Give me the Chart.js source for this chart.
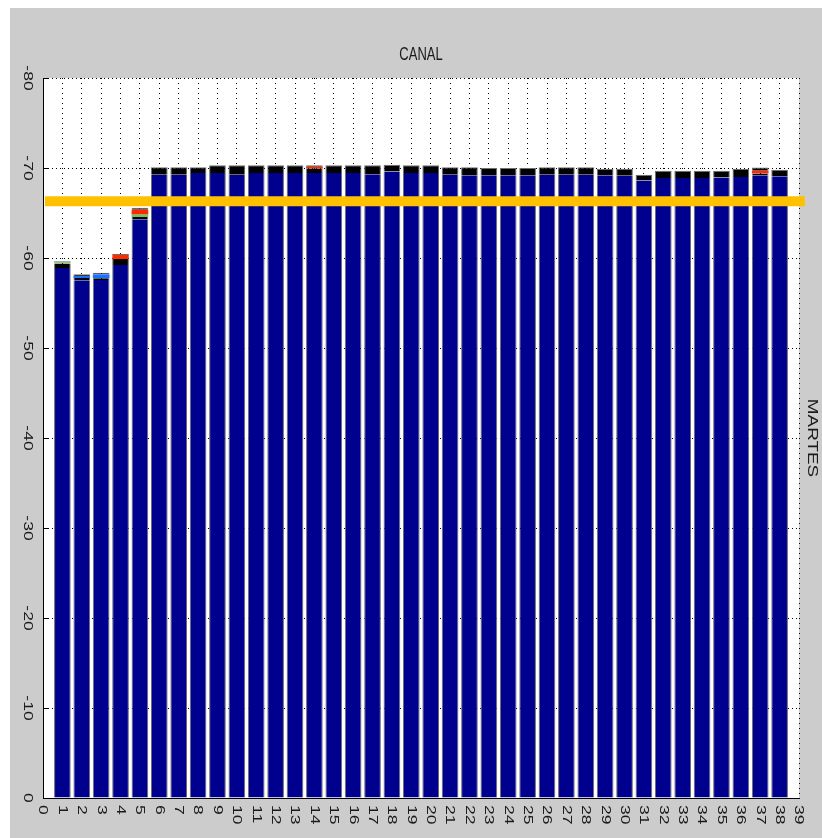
<!DOCTYPE html>
<html lang="es">
<head>
<meta charset="UTF-8">
<title>CANAL</title>
<script src="https://cdn.jsdelivr.net/npm/chart.js"></script>
<style>
  html, body { margin: 0; padding: 0; background: #fff; }
  canvas { display: block; }
</style>
</head>
<body>
<canvas id="chart" width="822" height="838"></canvas>
<script>
  // channels 1..38 (x axis runs 0..39)
  const channels = [1,2,3,4,5,6,7,8,9,10,11,12,13,14,15,16,17,18,19,20,
                    21,22,23,24,25,26,27,28,29,30,31,32,33,34,35,36,37,38];
  const xTickLabels = ['0','1','2','3','4','5','6','7','8','9','10','11','12','13','14','15','16','17','18','19',
                       '20','21','22','23','24','25','26','27','28','29','30','31','32','33','34','35','36','37','38','39'];
  const yTickValues = [0, -10, -20, -30, -40, -50, -60, -70, -80];

  // stacked segments (dBm), bottom to top
  const blueLevel = [-58.9, -57.52, -57.56, -59.22, -64.3, -69.26, -69.26, -69.44, -69.44, -69.26,
                     -69.44, -69.44, -69.44, -69.44, -69.44, -69.44, -69.3, -69.6, -69.44, -69.44,
                     -69.26, -69.2, -69.2, -69.2, -69.2, -69.26, -69.26, -69.26, -69.2, -69.15,
                     -68.6, -68.9, -68.9, -68.9, -68.95, -69.0, -69.2, -69.07];
  const blackLow  = [-0.5, -0.26, -0.19, -0.67, -0.25, -0.82, -0.82, -0.64, -0.86, -1.04,
                     -0.86, -0.86, -0.86, -0.5, -0.86, -0.86, -1.0, -0.77, -0.86, -0.86,
                     -0.82, -0.88, -0.8, -0.8, -0.8, -0.82, -0.82, -0.82, -0.7, -0.78,
                     -0.66, -0.8, -0.8, -0.8, -0.75, -0.9, -0.2, -0.73];
  const lightBlue = [0, -0.22, -0.44, 0, 0, 0, 0, 0, 0, 0, 0, 0, 0, 0, 0, 0, 0, 0, 0, 0,
                     0, 0, 0, 0, 0, 0, 0, 0, 0, 0, 0, 0, 0, 0, 0, 0, 0, 0];
  const green     = [-0.25, 0, 0, 0, -0.27, 0, 0, 0, 0, 0, 0, 0, 0, 0, 0, 0, 0, 0, 0, 0,
                     0, 0, 0, 0, 0, 0, 0, 0, 0, 0, 0, 0, 0, 0, 0, 0, 0, 0];
  const red       = [0, 0, 0, -0.55, -0.55, 0, 0, 0, 0, 0, 0, 0, 0, -0.2, 0, 0, 0, 0, 0, 0,
                     0, 0, 0, 0, 0, 0, 0, 0, 0, 0, 0, 0, 0, 0, 0, 0, -0.3, 0];
  const blackTop  = [0, -0.19, -0.18, 0, -0.2, 0, 0, 0, 0, 0, 0, 0, 0, -0.16, 0, 0, 0, 0, 0, 0,
                     0, 0, 0, 0, 0, 0, 0, 0, 0, 0, 0, 0, 0, 0, 0, 0, -0.35, 0];

  // threshold line
  const refLineX = [0.1, 39.3];
  const refLineY = -66.3;

  const segments = [
    { label: 'nivel', data: blueLevel, color: '#00008e' },
    { label: 'negro 1', data: blackLow, color: '#000000' },
    { label: 'celeste', data: lightBlue, color: '#1a70ff' },
    { label: 'verde', data: green, color: '#66c86a' },
    { label: 'rojo', data: red, color: '#ff2a00' },
    { label: 'negro 2', data: blackTop, color: '#000000' }
  ];

  // index of the topmost non-empty segment for each bar
  const topSeg = channels.map((c, i) => {
    let t = 0;
    segments.forEach((s, k) => { if (s.data[i] !== 0) t = k; });
    return t;
  });

  const FONT = '"Liberation Sans", Arial, sans-serif';
  const STRETCH = 1.35;

  function stretchedText(ctx, text, x, y, rotate, align) {
    ctx.save();
    ctx.translate(x, y);
    if (rotate) {
      ctx.rotate(Math.PI / 2);
      ctx.scale(STRETCH, 1);
    } else {
      ctx.scale(1, STRETCH);
    }
    ctx.textAlign = align;
    ctx.textBaseline = 'middle';
    ctx.fillText(text, 0, 0);
    ctx.restore();
  }

  const matlabLook = {
    id: 'matlabLook',
    beforeDraw(chart) {
      const { ctx, chartArea: a } = chart;
      ctx.save();
      ctx.fillStyle = '#ffffff';
      ctx.fillRect(0, 0, chart.width, chart.height);
      ctx.fillStyle = '#cccccc';
      ctx.fillRect(10, 8, chart.width - 10, chart.height - 8);
      ctx.fillStyle = '#ffffff';
      ctx.fillRect(a.left, a.top, a.right - a.left, a.bottom - a.top);
      ctx.restore();
    },
    afterDraw(chart) {
      const { ctx, chartArea: a, scales: { x, y } } = chart;
      ctx.save();
      ctx.fillStyle = '#1a1a1a';
      ctx.strokeStyle = '#000';
      ctx.lineWidth = 1;
      ctx.font = '13px ' + FONT;

      yTickValues.forEach(v => {
        const py = y.getPixelForValue(v);
        stretchedText(ctx, String(v), a.left - 15, py, true, 'center');
        ctx.beginPath();
        ctx.moveTo(a.left, Math.round(py) + 0.5);
        ctx.lineTo(a.left + 5, Math.round(py) + 0.5);
        ctx.stroke();
      });

      xTickLabels.forEach((lab, i) => {
        const px = x.getPixelForValue(i);
        stretchedText(ctx, lab, px, a.bottom + 7, true, 'left');
      });

      stretchedText(ctx, 'CANAL', (a.left + a.right) / 2, 55, false, 'center');
      ctx.font = '14px ' + FONT;
      stretchedText(ctx, 'MARTES', a.right + 13, (a.top + a.bottom) / 2, true, 'center');
      ctx.restore();
    }
  };

  const datasets = segments.map((s, k) => ({
    type: 'bar',
    label: s.label,
    data: channels.map((c, i) => ({ x: c, y: s.data[i] })),
    backgroundColor: s.color,
    borderColor: '#6e6e6e',
    borderWidth: ctx => {
      const i = ctx.dataIndex;
      const edge = (k === 0 || k === 1 || k === 5) ? 1 : 0;
      return { left: edge, right: edge, top: topSeg[i] === k ? 1 : 0, bottom: 0 };
    },
    borderSkipped: 'start',
    barPercentage: 0.86,
    categoryPercentage: 1,
    order: 1
  }));

  datasets.push({
    type: 'line',
    label: 'umbral',
    data: refLineX.map(v => ({ x: v, y: refLineY })),
    borderColor: '#ffc000',
    borderWidth: 10,
    pointRadius: 0,
    clip: false,
    order: 0
  });

  new Chart(document.getElementById('chart'), {
    data: { datasets },
    options: {
      responsive: false,
      animation: false,
      layout: { padding: { left: 43, right: 23, top: 78, bottom: 40 } },
      plugins: { legend: { display: false }, tooltip: { enabled: false } },
      scales: {
        x: {
          type: 'linear',
          min: 0,
          max: 39,
          offset: false,
          stacked: true,
          ticks: { display: false, stepSize: 1 },
          grid: { color: '#000', lineWidth: 1, drawTicks: false, offset: false },
          border: { display: true, color: '#000', width: 1, dash: [1, 4], z: 1 }
        },
        y: {
          type: 'linear',
          min: -80,
          max: 0,
          reverse: true,
          stacked: true,
          ticks: { display: false, stepSize: 10 },
          grid: { color: '#000', lineWidth: 1, drawTicks: false },
          border: { display: true, color: '#000', width: 1, dash: [1, 3], z: 1 }
        }
      }
    },
    plugins: [matlabLook]
  });
</script>
</body>
</html>
